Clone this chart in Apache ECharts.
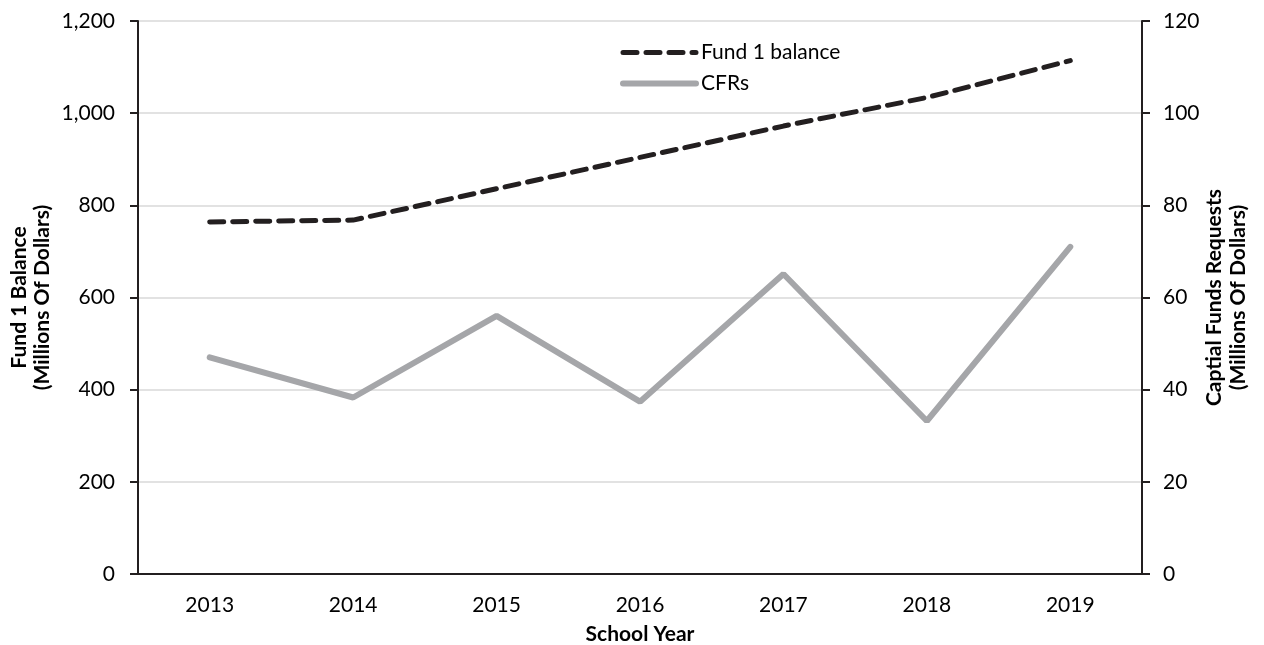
<!DOCTYPE html>
<html>
<head>
<meta charset="utf-8">
<script src="https://cdn.jsdelivr.net/npm/echarts@6/dist/echarts.min.js"></script>
<style>
  html, body { margin: 0; padding: 0; background: #fff; }
  #chart { width: 1264px; height: 645px; }
</style>
</head>
<body>
<div id="chart"></div>
<script>
var years = ['2013', '2014', '2015', '2016', '2017', '2018', '2019'];
var fundBalance = [764, 768, 836, 904, 972, 1034, 1114];
var cfrs = [47.0, 38.3, 56.0, 37.4, 65.1, 33.2, 71.0];

var fontFam = 'Lato, "Open Sans", sans-serif';
var axisColor = '#231f20';
var dashStyle = { color: '#231f20', width: 5, type: [14, 9], cap: 'round' };
var greyStyle = { color: '#a5a6a9', width: 6, cap: 'round' };

var myChart = echarts.init(document.getElementById('chart'));
var option = {
  animation: false,
  textStyle: { fontFamily: fontFam },
  grid: { left: 138, right: 122, top: 21, bottom: 71, containLabel: false, outerBoundsMode: 'none' },
  legend: {
    orient: 'vertical',
    left: 615,
    top: 37,
    itemWidth: 73,
    itemHeight: 12,
    itemGap: 10,
    itemStyle: { opacity: 0 },
    textStyle: { fontSize: 21, color: '#000', fontFamily: fontFam },
    data: [
      { name: 'Fund 1 balance', lineStyle: dashStyle },
      { name: 'CFRs', lineStyle: greyStyle }
    ]
  },
  xAxis: {
    type: 'category',
    data: years,
    name: 'School Year',
    nameLocation: 'middle',
    nameGap: 50,
    nameMoveOverlap: false,
    nameTextStyle: { fontSize: 21, fontWeight: 'bold', color: '#000' },
    axisLine: { lineStyle: { color: axisColor, width: 2 } },
    axisTick: { show: false },
    axisLabel: { fontSize: 21, color: '#000', margin: 21 }
  },
  yAxis: [
    {
      type: 'value',
      min: 0,
      max: 1200,
      interval: 200,
      name: 'Fund 1 Balance\n(Millions Of Dollars)',
      nameLocation: 'middle',
      nameRotate: 90,
      nameGap: 84,
      nameMoveOverlap: false,
      nameTextStyle: { fontSize: 21, fontWeight: 'bold', color: '#000', lineHeight: 23 },
      axisLine: { show: true, lineStyle: { color: axisColor, width: 2 } },
      axisTick: { show: true, length: 8, lineStyle: { color: axisColor, width: 2 } },
      axisLabel: {
        fontSize: 21, color: '#000', margin: 23,
        formatter: function (v) { return v.toLocaleString('en-US'); }
      },
      splitLine: { lineStyle: { color: '#d9d9d9', width: 1.5 } }
    },
    {
      type: 'value',
      position: 'right',
      min: 0,
      max: 120,
      interval: 20,
      name: 'Captial Funds Requests\n(Millions Of Dollars)',
      nameLocation: 'middle',
      nameRotate: 90,
      nameGap: 60,
      nameMoveOverlap: false,
      nameTextStyle: { fontSize: 21, fontWeight: 'bold', color: '#000', lineHeight: 24 },
      axisLine: { show: true, lineStyle: { color: axisColor, width: 2 } },
      axisTick: { show: true, length: 8, lineStyle: { color: axisColor, width: 2 } },
      axisLabel: { fontSize: 21, color: '#000', margin: 21 },
      splitLine: { show: false }
    }
  ],
  series: [
    {
      name: 'Fund 1 balance',
      type: 'line',
      yAxisIndex: 0,
      data: fundBalance,
      symbol: 'none',
      lineStyle: dashStyle,
      itemStyle: { color: '#231f20' },
      z: 3
    },
    {
      name: 'CFRs',
      type: 'line',
      yAxisIndex: 1,
      data: cfrs,
      symbol: 'none',
      lineStyle: greyStyle,
      itemStyle: { color: '#a5a6a9' },
      z: 2
    }
  ]
};
myChart.setOption(option);
</script>
</body>
</html>
